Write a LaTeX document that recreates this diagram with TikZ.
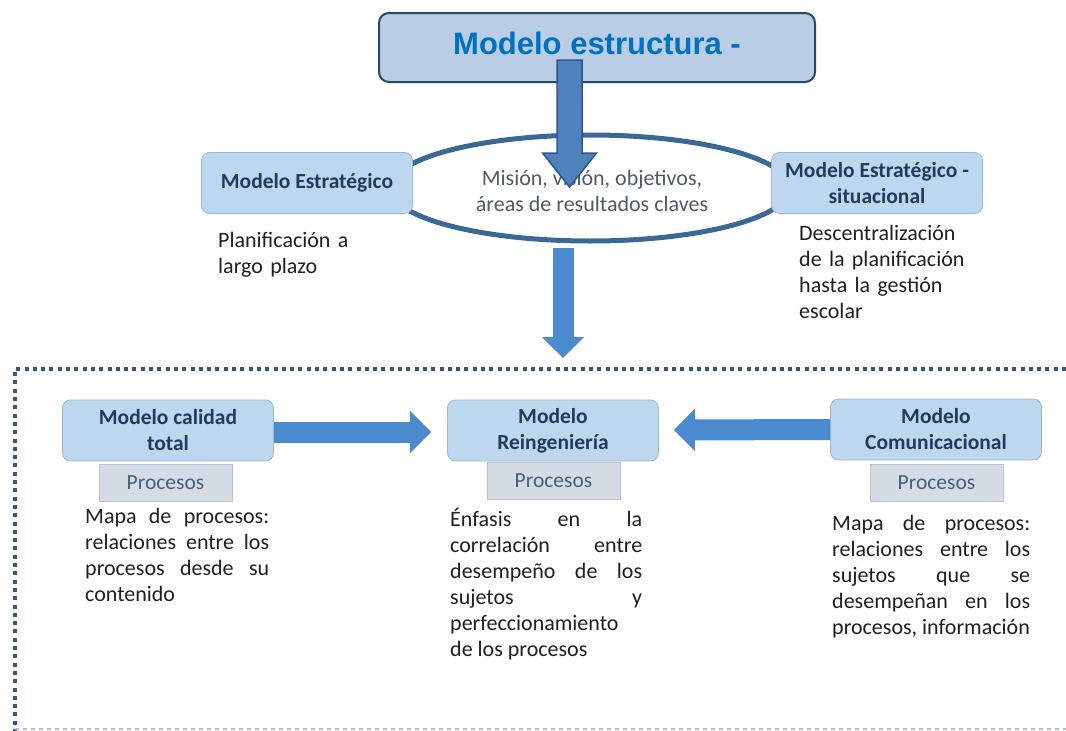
\documentclass[tikz,border=0pt]{standalone}
\usepackage{fontspec}
\setmainfont{Carlito}
\newfontfamily\arialfont{Liberation Sans}
\usepackage{xcolor}
\usetikzlibrary{shapes.geometric, arrows.meta, positioning, calc}

\definecolor{titlefill}{HTML}{B9CDE5}
\definecolor{titleedge}{HTML}{2B4766}
\definecolor{titletext}{HTML}{0070C0}
\definecolor{boxfill}{HTML}{BDD7EE}
\definecolor{boxedge}{HTML}{9DB6D2}
\definecolor{boxtext}{HTML}{1F3B5E}
\definecolor{procfill}{HTML}{D6DCE5}
\definecolor{procedge}{HTML}{B7C3D2}
\definecolor{proctext}{HTML}{44607E}
\definecolor{ovaledge}{HTML}{3B6996}
\definecolor{ovaltext}{HTML}{4E5A6A}
\definecolor{arrowtop}{HTML}{4F81BD}
\definecolor{arrowtopedge}{HTML}{2F5597}
\definecolor{arrowlow}{HTML}{4A8BD0}
\definecolor{framedark}{HTML}{3A5674}
\definecolor{framelight}{HTML}{A9BFD8}

\tikzset{
  titlebox/.style={draw=titleedge, line width=2pt, fill=titlefill, rounded corners=10pt,
    minimum width=436pt, minimum height=69pt, text=titletext,
    font=\arialfont\bfseries\fontsize{31}{36}\selectfont, text height=22pt, text depth=9pt},
  modelbox/.style={draw=boxedge, line width=0.8pt, fill=boxfill, rounded corners=8pt,
    minimum width=211pt, minimum height=61pt, inner sep=0pt, align=center,
    font=\bfseries\fontsize{21.5}{26}\selectfont, text=boxtext},
  procbox/.style={draw=procedge, line width=0.8pt, fill=procfill, minimum width=133pt,
    minimum height=37pt, inner sep=0pt, font=\fontsize{21.5}{24}\selectfont, text=proctext},
  notetext/.style={anchor=base west, inner sep=0pt, align=left,
    font=\fontsize{22}{26}\selectfont, text=black!88},
  bodytext/.style={anchor=base west, inner sep=0pt, align=justify,
    font=\fontsize{22}{26}\selectfont, text=black!88},
  lowarrow/.style={draw=arrowlow, line width=21pt, -{Triangle[length=21pt, width=41pt]}},
}

\begin{document}
\begin{tikzpicture}[x=1pt, y=-1pt]
  \useasboundingbox (0,0) rectangle (1066,731);

  % dotted frame round the lower models
  \draw[framedark, line width=4pt, dash pattern=on 4pt off 4.3pt] (1066,369) -- (15,369) -- (15,731);
  \draw[framelight, line width=2pt, dash pattern=on 4pt off 4pt] (15,729) -- (1066,729);

  % upper part
  \node[titlebox] (top) at (597,47.5) {Modelo estructura -};
  \node[draw=ovaledge, line width=5pt, ellipse, minimum width=400pt, minimum height=106pt, inner sep=0pt] (mision) at (590,188) {};
  \node[font=\fontsize{22}{26}\selectfont, text=ovaltext, align=center] (misiontxt) at (592,191) {Misión, visión, objetivos,\\áreas de resultados claves};
  \node[modelbox] (strat) at (307,183) {Modelo Estratégico};
  \node[modelbox] (stratsit) at (877,183) {Modelo Estratégico -\\situacional};
  \node[notetext, text width=170pt] (plan) at (218,247) {Planificación a\\largo plazo};
  \node[notetext, text width=200pt] (descent) at (799,240) {Descentralización\\de la planificación\\hasta la gestión\\escolar};

  % lower part
  \node[modelbox] (calidad) at (168,430.5) {Modelo calidad\\total};
  \node[modelbox] (reing) at (553,430.5) {Modelo\\Reingeniería};
  \node[modelbox] (comun) at (936,429.5) {Modelo\\Comunicacional};
  \node[procbox] (pcal) at (165.5,483) {Procesos};
  \node[procbox] (preing) at (553.5,481) {Procesos};
  \node[procbox] (pcom) at (936.5,483) {Procesos};
  \node[bodytext, text width=184pt] (tcal) at (85,523) {Mapa de procesos:\linebreak relaciones entre los\linebreak procesos desde su\linebreak contenido};
  \node[bodytext, text width=192pt] (treing) at (450,526) {Énfasis en la\linebreak correlación entre\linebreak desempeño de los\linebreak sujetos y\linebreak perfeccionamiento\\de los procesos};
  \node[bodytext, text width=198pt] (tcom) at (832,530) {Mapa de procesos:\linebreak relaciones entre los\linebreak sujetos que se\linebreak desempeñan en los\linebreak procesos, información};

  % block arrows
  \coordinate (a1s) at (569.5,60);
  \coordinate (a1e) at (569.5,187);
  \filldraw[fill=arrowtop, draw=arrowtopedge, line width=1.5pt]
    ($(a1s)+(-12.5,0)$) -- ($(a1e)+(-12.5,-34)$) -- ($(a1e)+(-27,-34)$) -- (a1e)
    -- ($(a1e)+(27,-34)$) -- ($(a1e)+(12.5,-34)$) -- ($(a1s)+(12.5,0)$) -- cycle;
  \coordinate (a2s) at (563,248);
  \coordinate (a2e) at (563,358);
  \draw[lowarrow] (a2s) -- (a2e);
  \draw[lowarrow] ($(calidad.east)+(0,1.5)$) -- ($(reing.west)+(-16,1.5)$);
  \draw[lowarrow] (comun.west) -- ($(reing.east)+(15,-0.5)$);
\end{tikzpicture}
\end{document}
